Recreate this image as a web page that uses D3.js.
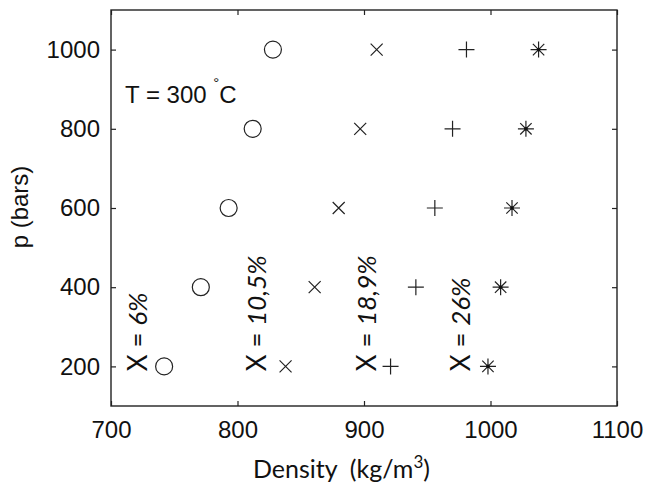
<!DOCTYPE html>
<html>
<head>
<meta charset="utf-8">
<script src="https://cdn.jsdelivr.net/npm/d3@7"></script>
<style>
    body { margin: 0; background: #fff; }
    .axis path { display: none; }
    .axis line { stroke: #222; stroke-width: 1.2; }
    .axis text { font-family: "Liberation Sans", Arial, sans-serif; font-size: 24px; fill: #111; }
    .mark { fill: none; stroke: #222; stroke-width: 1.2; }
</style>
</head>
<body>
<svg id="chart" width="646" height="489"></svg>
<script>
    var pressures = [200, 400, 600, 800, 1000];
    var dens6 = [742, 771, 793, 812, 828];
    var dens105 = [838, 861, 880, 897, 910];
    var dens189 = [921, 941, 956, 970, 981];
    var dens26 = [998, 1008, 1017, 1028, 1038];
    var seriesNames = ["6%", "10,5%", "18,9%", "26%"];
    var seriesShapes = ["circle", "cross", "plus", "star"];
    var labelDensity = [721, 815, 902, 976];
    var labelPressure = 188;
    var xTicks = [700, 800, 900, 1000, 1100];
    var yTicks = [200, 400, 600, 800, 1000];

    var svg = d3.select("#chart");
    var x = d3.scaleLinear().domain([700, 1100]).range([111, 617]);
    var y = d3.scaleLinear().domain([100, 1100]).range([406, 10]);
    var fmt = d3.format("d");

    // axes, ticks inside on all four sides
    svg.append("g").attr("class", "axis")
        .attr("transform", "translate(0,406)")
        .call(d3.axisBottom(x).tickValues(xTicks).tickFormat(fmt).tickSize(-5).tickPadding(15));
    svg.append("g").attr("class", "axis")
        .attr("transform", "translate(111,0)")
        .call(d3.axisLeft(y).tickValues(yTicks).tickFormat(fmt).tickSize(-5).tickPadding(11));
    svg.append("g").attr("class", "axis")
        .attr("transform", "translate(0,10)")
        .call(d3.axisTop(x).tickValues(xTicks).tickSize(-5).tickFormat(""));
    svg.append("g").attr("class", "axis")
        .attr("transform", "translate(617,0)")
        .call(d3.axisRight(y).tickValues(yTicks).tickSize(-5).tickFormat(""));

    svg.append("rect")
        .attr("x", 111).attr("y", 10)
        .attr("width", 617 - 111).attr("height", 406 - 10)
        .attr("fill", "none").attr("stroke", "#222").attr("stroke-width", 1.4);

    var series = [dens6, dens105, dens189, dens26].map(function(d, i) {
        return { name: seriesNames[i], shape: seriesShapes[i],
            points: d.map(function(v, j) { return [v, pressures[j]]; }) };
    });

    function drawShape(g, shape) {
        if (shape == "circle") {
            g.append("circle").attr("class", "mark").attr("r", 8.5);
        } else if (shape == "cross") {
            g.append("path").attr("class", "mark").attr("d", "M-6,-6L6,6M-6,6L6,-6");
        } else if (shape == "plus") {
            g.append("path").attr("class", "mark").attr("d", "M-8,0L8,0M0,-8L0,8");
        } else {
            g.append("path").attr("class", "mark")
                .attr("d", "M-8,0L8,0M0,-8L0,8M-5.7,-5.7L5.7,5.7M-5.7,5.7L5.7,-5.7");
            g.append("circle").attr("r", 1.8).attr("fill", "#111");
        }
    }

    series.forEach(function(s) {
        svg.append("g").selectAll("g")
            .data(s.points)
            .enter().append("g")
            .attr("transform", function(d) { return "translate(" + x(d[0]) + "," + y(d[1]) + ")"; })
            .each(function() { drawShape(d3.select(this), s.shape); });
    });

    // rotated composition labels
    series.forEach(function(s, i) {
        var t = svg.append("text")
            .attr("transform", "translate(" + x(labelDensity[i]) + "," + y(labelPressure) + ") rotate(-90)")
            .attr("dy", "0.36em")
            .style("font-family", "Lato, 'Open Sans', sans-serif")
            .style("font-size", "26px")
            .attr("fill", "#111");
        t.append("tspan").text("X = ");
        t.append("tspan").style("font-style", "italic").text(s.name);
    });

    var tl = svg.append("text")
        .attr("x", 125).attr("y", 103)
        .style("font-family", "'Liberation Sans', Arial, sans-serif")
        .style("font-size", "24px")
        .attr("fill", "#111");
    tl.append("tspan").text("T = 300 ");
    tl.append("tspan").attr("dy", -15).style("font-size", "15px").text("°");
    tl.append("tspan").attr("dy", 15).text("C");

    svg.append("text")
        .attr("transform", "translate(28,207) rotate(-90)")
        .attr("text-anchor", "middle")
        .style("font-family", "'Liberation Sans', Arial, sans-serif")
        .style("font-size", "24px")
        .attr("fill", "#111")
        .text("p (bars)");

    var xt = svg.append("text")
        .attr("x", 253).attr("y", 478)
        .style("font-family", "Lato, 'Open Sans', sans-serif")
        .style("font-size", "25px")
        .attr("fill", "#111");
    xt.append("tspan").text("Density\u00a0 (kg/m");
    xt.append("tspan").attr("dy", -10).style("font-size", "17px").text("3");
    xt.append("tspan").attr("dy", 10).text(")");
</script>
</body>
</html>
